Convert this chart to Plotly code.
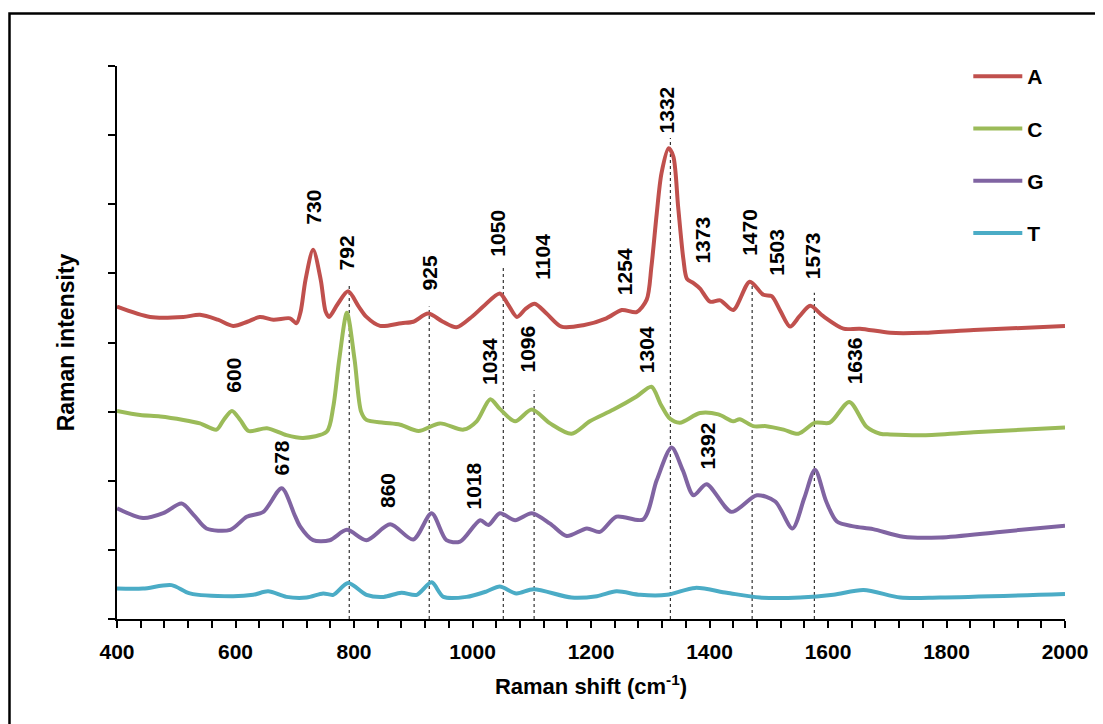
import plotly.graph_objects as go

# ---------------- data ----------------
series_names = ["A", "C", "G", "T"]
series_colors = ["#C0504D", "#9BBB59", "#8064A2", "#4BACC6"]

a_x = [400, 456, 512, 540, 570, 596, 620, 641, 664, 692, 703, 710, 718, 731, 744, 752, 758, 772, 790, 808, 821, 844, 880, 900, 925, 950, 973, 1000, 1018, 1046, 1060, 1075, 1090, 1105, 1125, 1150, 1187, 1226, 1252, 1277, 1294, 1302, 1311, 1319, 1331, 1339, 1347, 1356, 1362, 1373, 1384, 1401, 1418, 1440, 1468, 1491, 1505, 1520, 1536, 1552, 1570, 1592, 1626, 1654, 1705, 1761, 1846, 2000]
a_y = [4.52, 4.37, 4.37, 4.40, 4.33, 4.24, 4.30, 4.37, 4.33, 4.35, 4.28, 4.45, 4.90, 5.34, 4.90, 4.45, 4.37, 4.55, 4.74, 4.52, 4.37, 4.24, 4.28, 4.30, 4.42, 4.30, 4.22, 4.38, 4.52, 4.71, 4.55, 4.37, 4.49, 4.56, 4.42, 4.23, 4.25, 4.35, 4.47, 4.44, 4.62, 5.10, 5.87, 6.45, 6.81, 6.69, 5.97, 5.20, 4.92, 4.86, 4.78, 4.59, 4.61, 4.47, 4.88, 4.69, 4.67, 4.45, 4.23, 4.38, 4.53, 4.38, 4.20, 4.20, 4.14, 4.14, 4.18, 4.24]

c_x = [400, 439, 473, 512, 540, 568, 580, 594, 608, 622, 653, 686, 714, 754, 765, 775, 788, 801, 812, 821, 850, 878, 909, 945, 985, 1007, 1030, 1046, 1072, 1100, 1131, 1167, 1198, 1238, 1277, 1302, 1318, 1333, 1350, 1384, 1415, 1440, 1451, 1474, 1496, 1525, 1550, 1578, 1603, 1636, 1665, 1688, 1705, 1761, 1846, 2000]
c_y = [3.01, 2.95, 2.93, 2.88, 2.83, 2.74, 2.88, 3.01, 2.88, 2.72, 2.76, 2.66, 2.62, 2.71, 3.07, 3.75, 4.43, 3.75, 3.00, 2.88, 2.84, 2.81, 2.72, 2.83, 2.74, 2.86, 3.18, 3.04, 2.86, 3.03, 2.83, 2.68, 2.86, 3.03, 3.22, 3.36, 3.10, 2.90, 2.84, 2.98, 2.96, 2.86, 2.89, 2.79, 2.79, 2.74, 2.68, 2.84, 2.84, 3.14, 2.78, 2.68, 2.67, 2.66, 2.70, 2.77]

g_x = [400, 444, 478, 509, 530, 551, 591, 619, 647, 678, 700, 709, 731, 759, 788, 821, 861, 900, 931, 956, 979, 1013, 1027, 1046, 1072, 1100, 1131, 1159, 1193, 1215, 1243, 1288, 1311, 1336, 1355, 1373, 1395, 1437, 1480, 1511, 1540, 1560, 1578, 1597, 1615, 1643, 1676, 1727, 1789, 1890, 2000]
g_y = [1.60, 1.46, 1.53, 1.67, 1.50, 1.31, 1.29, 1.48, 1.55, 1.89, 1.50, 1.34, 1.14, 1.14, 1.29, 1.14, 1.37, 1.15, 1.53, 1.14, 1.12, 1.43, 1.36, 1.53, 1.43, 1.53, 1.38, 1.20, 1.31, 1.26, 1.48, 1.44, 2.01, 2.48, 2.15, 1.79, 1.95, 1.55, 1.79, 1.70, 1.31, 1.75, 2.16, 1.70, 1.41, 1.34, 1.30, 1.19, 1.18, 1.26, 1.35]

t_x = [400, 444, 492, 523, 596, 630, 655, 686, 720, 748, 765, 790, 821, 850, 880, 906, 931, 951, 990, 1024, 1046, 1074, 1103, 1167, 1210, 1243, 1283, 1328, 1376, 1429, 1485, 1553, 1609, 1660, 1722, 1789, 2000]
t_y = [0.44, 0.44, 0.49, 0.37, 0.33, 0.35, 0.40, 0.32, 0.31, 0.37, 0.35, 0.52, 0.35, 0.32, 0.38, 0.35, 0.53, 0.32, 0.32, 0.40, 0.47, 0.37, 0.43, 0.31, 0.33, 0.40, 0.35, 0.35, 0.45, 0.38, 0.31, 0.31, 0.35, 0.42, 0.31, 0.31, 0.36]

# peak marker lines (x position, top value)
mark_x = [792, 927, 1052, 1104, 1334, 1472, 1577]
mark_top = [4.83, 4.52, 5.08, 3.31, 6.96, 4.88, 4.72]

# peak labels (text, x, bottom value)
label_text = ["730", "792", "925", "1050", "1104", "1254", "1332", "1373", "1470", "1503", "1573",
              "600", "1034", "1096", "1304", "1636", "678", "860", "1018", "1392"]
label_x = [731, 788, 927, 1043, 1119, 1257, 1328, 1389, 1467, 1514, 1573,
           596, 1029, 1092, 1294, 1644, 678, 857, 1001, 1396]
label_y = [5.67, 5.02, 4.72, 5.22, 4.88, 4.66, 7.00, 5.12, 5.22, 4.93, 4.88,
           3.24, 3.36, 3.53, 3.53, 3.36, 2.05, 1.58, 1.55, 2.13]

x_range = [400, 2000]
y_range = [0, 8]

FONT = "Liberation Sans, Arial, sans-serif"

fig = go.Figure()

for mx, mt in zip(mark_x, mark_top):
    fig.add_trace(go.Scatter(x=[mx, mx], y=[0, mt], mode="lines",
                             line=dict(color="#333333", width=1.2, dash="dot"),
                             showlegend=False, hoverinfo="skip"))

for name, color, xs, ys in zip(series_names, series_colors,
                               [a_x, c_x, g_x, t_x], [a_y, c_y, g_y, t_y]):
    fig.add_trace(go.Scatter(x=xs, y=ys, name=name, mode="lines",
                             line=dict(color=color, width=4, shape="spline", smoothing=0.8),
                             legendgroup=name))

for txt, lx, ly in zip(label_text, label_x, label_y):
    fig.add_annotation(x=lx, y=ly, text=txt, textangle=-90, showarrow=False,
                       xanchor="center", yanchor="bottom",
                       font=dict(family=FONT, size=21, color="black", weight="bold"))

# outer frame
fig.add_shape(type="rect", xref="paper", yref="paper",
              x0=-0.1134, x1=1.2, y0=-0.3, y1=1.0949,
              line=dict(color="black", width=2.5), fillcolor="rgba(0,0,0,0)")

fig.update_layout(
    width=1095, height=716,
    margin=dict(l=109, r=38, t=58, b=105),
    paper_bgcolor="white", plot_bgcolor="white",
    font=dict(family=FONT, size=20, color="black"),
    showlegend=True,
    legend=dict(x=0.898, y=1.018, xanchor="left", yanchor="top",
                bgcolor="rgba(0,0,0,0)", tracegroupgap=22, itemwidth=49,
                font=dict(family=FONT, size=21, color="black", weight="bold")),
    xaxis=dict(range=x_range, showgrid=False, zeroline=False,
               showline=True, linecolor="black", linewidth=1.5,
               ticks="outside", ticklen=7, tickwidth=1.5, tickcolor="black",
               tick0=400, dtick=200, ticklabelstandoff=6,
               minor=dict(ticks="outside", ticklen=7, tickwidth=1.5, tickcolor="black", dtick=40),
               tickfont=dict(family=FONT, size=21, color="black", weight="bold"),
               title=dict(text="Raman shift (cm<sup>-1</sup>)", standoff=17,
                          font=dict(family=FONT, size=22, color="black", weight="bold"))),
    yaxis=dict(range=y_range, showgrid=False, zeroline=False,
               showline=True, linecolor="black", linewidth=1.5,
               ticks="outside", ticklen=7, tickwidth=1.5, tickcolor="black",
               tick0=0, dtick=1, showticklabels=False,
               title=dict(text="Raman intensity", standoff=27,
                          font=dict(family=FONT, size=23, color="black", weight="bold"))),
)

fig.write_html("out.html")
